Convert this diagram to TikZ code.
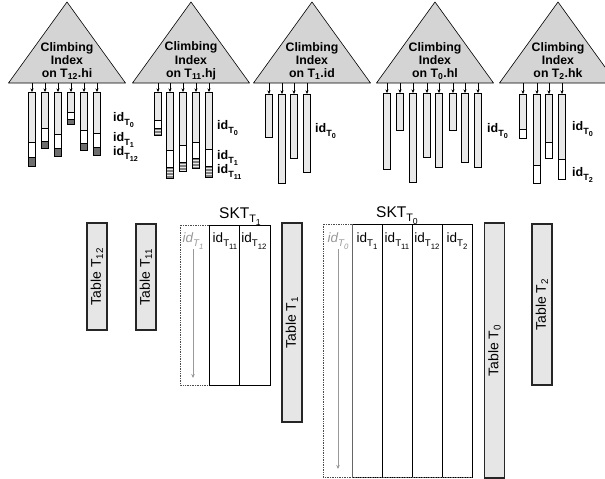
\documentclass[tikz,border=0pt]{standalone}
\usepackage{fontspec}
\setmainfont{Liberation Sans}
\usetikzlibrary{arrows.meta}
\definecolor{trifill}{RGB}{212,212,212}
\definecolor{colfill}{RGB}{232,232,232}
\definecolor{darkseg}{RGB}{110,110,110}
\definecolor{tabfill}{RGB}{230,230,230}
\tikzset{
  tri/.style={draw=black, line width=0.6pt, fill=trifill, line join=round},
  trilabel/.style={align=center, font=\fontsize{12.3}{13.3}\selectfont\bfseries, inner sep=0pt},
  colbox/.style={draw=black, line width=0.7pt},
  ptr/.style={-{Stealth[length=3.5pt,width=3pt]}, line width=0.6pt},
  idlab/.style={anchor=base west, inner sep=0pt, font=\fontsize{12.5}{12.5}\selectfont\bfseries},
  tablebox/.style={draw=black!85, line width=1.1pt, fill=tabfill, inner sep=0pt, minimum height=20pt, rotate=90, font=\fontsize{14}{14}\selectfont},
  skt/.style={draw=black, line width=0.7pt},
  hdr/.style={anchor=base, inner sep=0pt, font=\fontsize{13.5}{13.5}\selectfont},
  sktitle/.style={anchor=base, inner sep=0pt, font=\fontsize{15.5}{15.5}\selectfont},
  scanarrow/.style={-{Stealth[length=4pt,width=3.5pt]}, draw=black!40, line width=0.8pt}
}
% id with double subscript
\newcommand\idT[1]{id\raisebox{-0.33em}{\fontsize{0.72em}{0.72em}\selectfont T\raisebox{-0.3em}{\fontsize{0.8em}{0.8em}\selectfont #1}}}
% column pieces: x, top, bottom
\newcommand\gcol[3]{%
  \fill[colfill] (#1-3.2,#2) rectangle (#1+3.2,#3);}
\newcommand\wseg[3]{\fill[white] (#1-3.2,#2) rectangle (#1+3.2,#3);\draw[line width=0.5pt] (#1-3.2,#2) -- (#1+3.2,#2);}
\newcommand\dseg[3]{\fill[darkseg] (#1-3.2,#2) rectangle (#1+3.2,#3);\draw[line width=0.5pt] (#1-3.2,#2) -- (#1+3.2,#2);}
\newcommand\sseg[3]{\draw[line width=0.5pt] (#1-3.2,#2) -- (#1+3.2,#2);
  \foreach \yy in {1.5,3,...,20}{\pgfmathparse{#2+\yy<#3}\ifnum\pgfmathresult=1 \draw[black!50,line width=0.6pt] (#1-3.2,#2+\yy) -- (#1+3.2,#2+\yy);\fi}}
\newcommand\ocol[4]{% name, x, top, bottom
  \coordinate (#1) at (#2,#3);
  \draw[colbox] (#2-3.2,#3) rectangle (#2+3.2,#4);}
\begin{document}
\begin{tikzpicture}[x=1pt,y=-1pt]
\useasboundingbox (0,0) rectangle (605,479);
\begin{scope}
\clip (0,0) rectangle (605,479);
% ---------- triangles ----------
\foreach \n/\ax/\lab in {1/67/{T\textsubscript{12}.hi},2/191/{T\textsubscript{11}.hj},3/312/{T\textsubscript{1}.id},4/435/{T\textsubscript{0}.hl},5/558/{T\textsubscript{2}.hk}}{
  \draw[tri] (\ax,2) -- (\ax+58.5,83) -- (\ax-58.5,83) -- cycle;
  \coordinate (base\n) at (\ax,83);
  \node[trilabel] (tl\n) at (\ax,61) {Climbing\\Index\\on \lab};
}
\end{scope}
% ---------- triangle 1 columns ----------
\gcol{32}{92}{166}\wseg{32}{142}{157}\dseg{32}{157}{166}
\gcol{45}{92}{148}\wseg{45}{128}{141}\dseg{45}{141}{148}
\gcol{58}{92}{156}\wseg{58}{134}{148}\dseg{58}{148}{156}
\gcol{71}{92}{124}\wseg{71}{112}{119}\dseg{71}{119}{124}
\gcol{84}{92}{150}\wseg{84}{130}{143}\dseg{84}{143}{150}
\gcol{97}{92}{155}\wseg{97}{133}{147}\dseg{97}{147}{155}
\ocol{a1}{32}{92}{166}\ocol{a2}{45}{92}{148}\ocol{a3}{58}{92}{156}
\ocol{a4}{71}{92}{124}\ocol{a5}{84}{92}{150}\ocol{a6}{97}{92}{155}
\foreach \c in {a1,a2,a3,a4,a5,a6}{\draw[ptr] (\c |- base1) -- (\c);}
\node[idlab] (l1a) at (113,121) {\idT{0}};
\node[idlab] (l1b) at (113,141) {\idT{1}};
\node[idlab] (l1c) at (113,155) {\idT{12}};
% ---------- triangle 2 columns ----------
\gcol{158}{92}{135}\wseg{158}{120}{128}\sseg{158}{128}{135}
\gcol{170}{92}{178}\wseg{170}{150}{167}\sseg{170}{167}{178}
\gcol{183}{92}{171}\wseg{183}{145}{162}\sseg{183}{162}{171}
\gcol{196}{92}{168}\wseg{196}{142}{158}\sseg{196}{158}{168}
\gcol{209}{92}{177}\wseg{209}{149}{166}\sseg{209}{166}{177}
\ocol{b1}{158}{92}{135}\ocol{b2}{170}{92}{178}\ocol{b3}{183}{92}{171}
\ocol{b4}{196}{92}{168}\ocol{b5}{209}{92}{177}
\foreach \c in {b1,b2,b3,b4,b5}{\draw[ptr] (\c |- base2) -- (\c);}
\node[idlab] (l2a) at (217,129) {\idT{0}};
\node[idlab] (l2b) at (217,159) {\idT{1}};
\node[idlab] (l2c) at (217,173) {\idT{11}};
% ---------- triangle 3 columns ----------
\gcol{269}{94}{137}\gcol{282}{94}{183}\gcol{294}{94}{158}\gcol{307}{94}{172}
\ocol{c1}{269}{94}{137}\ocol{c2}{282}{94}{183}\ocol{c3}{294}{94}{158}\ocol{c4}{307}{94}{172}
\foreach \c in {c1,c2,c3,c4}{\draw[ptr] (\c |- base3) -- (\c);}
\node[idlab] (l3a) at (315,132) {\idT{0}};
% ---------- triangle 4 columns ----------
\foreach \i/\x/\b in {1/387/169,2/400/130,3/413/182,4/427/157,5/439/167,6/453/130,7/465/162,8/478/167}{
  \gcol{\x}{93}{\b}\ocol{d\i}{\x}{93}{\b}
  \draw[ptr] (d\i |- base4) -- (d\i);
}
\node[idlab] (l4a) at (487,132) {\idT{0}};
% ---------- triangle 5 columns ----------
\gcol{523}{94}{138}\wseg{523}{129}{138}
\gcol{537}{94}{183}\wseg{537}{165}{183}
\gcol{549}{94}{158}\wseg{549}{142}{158}
\gcol{562}{94}{179}\wseg{562}{159}{179}
\ocol{e1}{523}{94}{138}\ocol{e2}{537}{94}{183}\ocol{e3}{549}{94}{158}\ocol{e4}{562}{94}{179}
\foreach \c in {e1,e2,e3,e4}{\draw[ptr] (\c |- base5) -- (\c);}
\node[idlab] (l5a) at (572,130) {\idT{0}};
\node[idlab] (l5b) at (572,176) {\idT{2}};
% ---------- tables ----------
\node[tablebox, minimum width=107pt] (t12) at (97,276.5) {Table T\textsubscript{12}};
\node[tablebox, minimum width=106pt] (t11) at (146,277) {Table T\textsubscript{11}};
\node[tablebox, minimum width=199pt] (t1) at (292,322.5) {Table T\textsubscript{1}};
\node[tablebox, minimum width=255pt] (t0) at (494.5,350.5) {Table T\textsubscript{0}};
\node[tablebox, minimum width=161pt] (t2) at (542,304.5) {Table T\textsubscript{2}};
% ---------- SKT T1 ----------
\node[sktitle] (s1t) at (240,218) {SKT\raisebox{-0.3em}{\fontsize{0.7em}{0.7em}\selectfont T\raisebox{-0.25em}{\fontsize{0.8em}{0.8em}\selectfont 1}}};
\draw[densely dotted, black!70, line width=0.7pt] (209,225) -- (180,225) -- (180,385) -- (209,385);
\draw[skt] (209,225) rectangle (270,385);
\draw[skt] (239,225) -- (239,385);
\node[hdr, text=black!40] (h10) at (193,242) {\itshape\idT{1}};
\node[hdr] (h11) at (225,242) {\idT{11}};
\node[hdr] (h12) at (254,242) {\idT{12}};
\coordinate (s1a) at (193,249);
\coordinate (s1b) at (193,378);
\draw[scanarrow] (s1a) -- (s1b);
% ---------- SKT T0 ----------
\node[sktitle] (s0t) at (397,217) {SKT\raisebox{-0.3em}{\fontsize{0.7em}{0.7em}\selectfont T\raisebox{-0.25em}{\fontsize{0.8em}{0.8em}\selectfont 0}}};
\draw[densely dotted, black!70, line width=0.7pt] (352,224) -- (323,224) -- (323,477) -- (352,477);
\draw[skt] (352,224) rectangle (472,477);
\foreach \x in {382,412,442}{\draw[skt] (\x,224) -- (\x,477);}
\draw[black!60, line width=0.9pt] (352,224) -- (352,477);
\draw[black!60, densely dotted, line width=0.7pt] (352,477) -- (472,477);
\node[hdr, text=black!40] (h00) at (338,242) {\itshape\idT{0}};
\node[hdr] (h01) at (367,242) {\idT{1}};
\node[hdr] (h02) at (397,242) {\idT{11}};
\node[hdr] (h03) at (427,242) {\idT{12}};
\node[hdr] (h04) at (457,242) {\idT{2}};
\coordinate (s0a) at (338,249);
\coordinate (s0b) at (338,469);
\draw[scanarrow] (s0a) -- (s0b);
\end{tikzpicture}
\end{document}
